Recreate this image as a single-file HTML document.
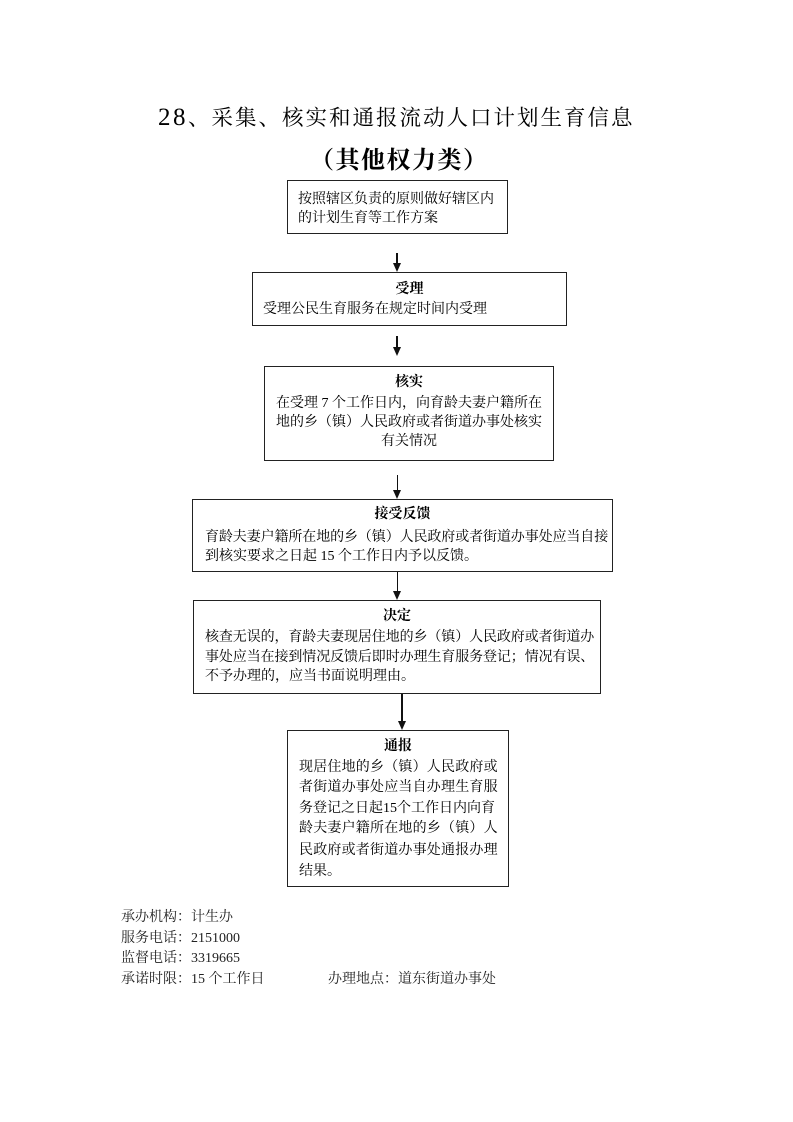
<!DOCTYPE html>
<html>
<head>
<meta charset="utf-8">
<style>
  html,body{margin:0;padding:0;background:#fff;}
  body{width:793px;height:1122px;position:relative;overflow:hidden;
       font-family:"Liberation Serif","Noto Serif CJK SC",serif;color:#000;}
  .a{position:absolute;white-space:nowrap;}
  .box{position:absolute;border:1.5px solid #222;box-sizing:border-box;}
  .t{position:absolute;white-space:nowrap;font-size:14px;line-height:20px;}
  .h{position:absolute;white-space:nowrap;font-size:14px;line-height:20px;font-weight:bold;text-align:center;}
  .vl{position:absolute;width:1.5px;background:#111;}
  .ah{position:absolute;width:0;height:0;border-left:4px solid transparent;border-right:4px solid transparent;border-top:9px solid #111;}
</style>
</head>
<body>

<!-- Title -->
<div class="a" style="left:158px;top:103px;height:30px;line-height:30px;">
  <span style="font-family:'Liberation Serif',serif;font-size:25px;letter-spacing:2.5px;">28</span><span style="font-family:'Liberation Serif','Noto Serif CJK SC',serif;font-size:21.5px;letter-spacing:2px;">、采集、核实和通报流动人口计划生育信息</span>
</div>
<div class="a" style="left:310px;top:146px;font-size:24px;line-height:30px;font-weight:bold;letter-spacing:1.5px;">（其他权力类）</div>

<!-- Box 1 -->
<div class="box" style="left:287px;top:180px;width:221px;height:54px;"></div>
<div class="t" style="left:298px;top:190px;">按照辖区负责的原则做好辖区内</div>
<div class="t" style="left:298px;top:209px;">的计划生育等工作方案</div>

<!-- Arrow 1 -->
<div class="vl" style="left:396px;top:253px;height:12px;"></div>
<div class="ah" style="left:392.5px;top:263px;"></div>

<!-- Box 2 -->
<div class="box" style="left:252px;top:272px;width:315px;height:54px;"></div>
<div class="h" style="left:252px;width:315px;top:280px;">受理</div>
<div class="t" style="left:263px;top:300px;">受理公民生育服务在规定时间内受理</div>

<!-- Arrow 2 -->
<div class="vl" style="left:396px;top:336px;height:12px;"></div>
<div class="ah" style="left:392.5px;top:347px;"></div>

<!-- Box 3 -->
<div class="box" style="left:264px;top:366px;width:290px;height:95px;"></div>
<div class="h" style="left:264px;width:290px;top:373px;">核实</div>
<div class="t" style="left:264px;width:290px;text-align:center;top:394px;">在受理 7 个工作日内，向育龄夫妻户籍所在</div>
<div class="t" style="left:264px;width:290px;text-align:center;top:413px;">地的乡（镇）人民政府或者街道办事处核实</div>
<div class="t" style="left:264px;width:290px;text-align:center;top:432px;">有关情况</div>

<!-- Arrow 3 -->
<div class="vl" style="left:396.5px;top:475px;height:16px;"></div>
<div class="ah" style="left:393px;top:490px;"></div>

<!-- Box 4 -->
<div class="box" style="left:192px;top:499px;width:421px;height:73px;"></div>
<div class="h" style="left:192px;width:421px;top:505px;">接受反馈</div>
<div class="t" style="left:205px;top:528px;letter-spacing:-0.1px;">育龄夫妻户籍所在地的乡（镇）人民政府或者街道办事处应当自接</div>
<div class="t" style="left:205px;top:547px;">到核实要求之日起 15 个工作日内予以反馈。</div>

<!-- Arrow 4 -->
<div class="vl" style="left:396.5px;top:572px;height:20px;"></div>
<div class="ah" style="left:393px;top:591px;"></div>

<!-- Box 5 -->
<div class="box" style="left:193px;top:600px;width:408px;height:94px;"></div>
<div class="h" style="left:193px;width:408px;top:607px;">决定</div>
<div class="t" style="left:205px;top:628px;letter-spacing:-0.1px;">核查无误的，育龄夫妻现居住地的乡（镇）人民政府或者街道办</div>
<div class="t" style="left:205px;top:648px;letter-spacing:-0.1px;">事处应当在接到情况反馈后即时办理生育服务登记；情况有误、</div>
<div class="t" style="left:205px;top:667px;">不予办理的，应当书面说明理由。</div>

<!-- Arrow 5 -->
<div class="vl" style="left:401px;top:694px;height:28px;"></div>
<div class="ah" style="left:397.5px;top:721px;"></div>

<!-- Box 6 -->
<div class="box" style="left:287px;top:730px;width:222px;height:157px;"></div>
<div class="h" style="left:287px;width:222px;top:737px;">通报</div>
<div class="t" style="left:299px;top:758px;letter-spacing:0.2px;">现居住地的乡（镇）人民政府或</div>
<div class="t" style="left:299px;top:778px;letter-spacing:0.2px;">者街道办事处应当自办理生育服</div>
<div class="t" style="left:299px;top:799px;">务登记之日起15个工作日内向育</div>
<div class="t" style="left:299px;top:819px;letter-spacing:0.2px;">龄夫妻户籍所在地的乡（镇）人</div>
<div class="t" style="left:299px;top:841px;letter-spacing:0.2px;">民政府或者街道办事处通报办理</div>
<div class="t" style="left:299px;top:862px;">结果。</div>

<!-- Footer -->
<div class="t" style="left:121px;top:908px;color:#222;">承办机构：计生办</div>
<div class="t" style="left:121px;top:929px;color:#222;">服务电话：2151000</div>
<div class="t" style="left:121px;top:949px;color:#222;">监督电话：3319665</div>
<div class="t" style="left:121px;top:970px;color:#222;">承诺时限：15 个工作日</div>
<div class="t" style="left:328px;top:970px;color:#222;">办理地点：道东街道办事处</div>

</body>
</html>
